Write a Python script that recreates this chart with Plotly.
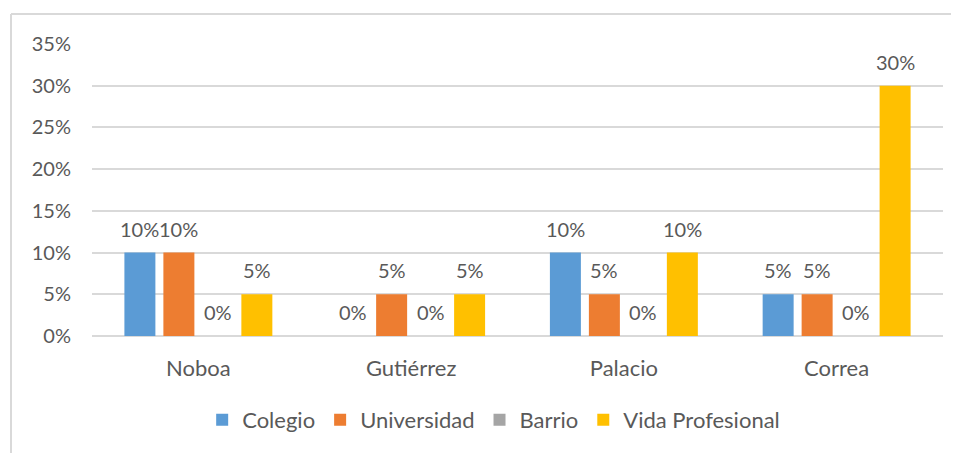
import plotly.graph_objects as go

categories = ["Noboa", "Gutiérrez", "Palacio", "Correa"]
series_names = ["Colegio", "Universidad", "Barrio", "Vida Profesional"]
colegio = [0.10, 0.0, 0.10, 0.05]
universidad = [0.10, 0.05, 0.05, 0.05]
barrio = [0.0, 0.0, 0.0, 0.0]
vida_profesional = [0.05, 0.05, 0.10, 0.30]
y_ticks = [0, 0.05, 0.10, 0.15, 0.20, 0.25, 0.30, 0.35]

colors = ["#5B9BD5", "#ED7D31", "#A5A5A5", "#FFC000"]
values = [colegio, universidad, barrio, vida_profesional]

W, H = 959, 453
ml, mt = 84, 36
pw, ph = 851, 292
mr = W - ml - pw
mb = H - mt - ph
bargap = 0.267
bargroupgap = 0.205
FONT = "Lato"
FS = 20
FS_TXT = 22
TXT = "#595959"

fig = go.Figure()
for name, vals, col in zip(series_names, values, colors):
    fig.add_trace(go.Bar(name=name, x=categories, y=vals, marker_color=col,
                         marker_line_width=0, hoverinfo="skip"))

# data labels above bars
cat_w = pw / len(categories)
slot = cat_w * (1 - bargap) / len(series_names)
for i, vals in enumerate(values):
    off = (i - (len(series_names) - 1) / 2) * slot
    for c, v in zip(categories, vals):
        fig.add_annotation(x=c, y=v, text=f"{v*100:.0f}%", showarrow=False,
                           xshift=off, yshift=24, yanchor="middle",
                           font=dict(family=FONT, size=FS, color=TXT))

# chart frame (top and left edges; the rest lies outside the view)
fx0 = (3 - ml) / pw
fx1 = (W - ml) / pw
fy0 = -(H - mt - ph) / ph
fy1 = 1 + (mt - 6) / ph
frame = dict(color="#D9D9D9", width=2)
fig.add_shape(type="line", xref="paper", yref="paper", x0=fx0, x1=fx1, y0=fy1, y1=fy1, line=frame)
fig.add_shape(type="line", xref="paper", yref="paper", x0=fx0, x1=fx0, y0=fy0, y1=fy1, line=frame)

fig.update_layout(
    width=W, height=H,
    margin=dict(l=ml, r=mr, t=mt, b=mb),
    paper_bgcolor="white", plot_bgcolor="white",
    barmode="group", bargap=bargap, bargroupgap=bargroupgap,
    font=dict(family=FONT, size=FS, color=TXT),
    showlegend=True,
    legend=dict(orientation="h", x=0.472, xanchor="center",
                y=-(412 - (mt + ph)) / ph, yanchor="middle",
                font=dict(family=FONT, size=FS_TXT, color=TXT),
                itemwidth=30, traceorder="normal"),
    xaxis=dict(showgrid=False, showline=False, ticks="outside", ticklen=13,
               tickcolor="rgba(0,0,0,0)", tickfont=dict(family=FONT, size=FS_TXT, color=TXT)),
    yaxis=dict(range=[0, 0.35], tickvals=y_ticks, tickformat=".0%",
               showgrid=True, gridcolor="#D9D9D9", gridwidth=1.5,
               zeroline=True, zerolinecolor="#D9D9D9", zerolinewidth=1.5,
               showline=False, ticks="outside", ticklen=16, tickcolor="rgba(0,0,0,0)",
               tickfont=dict(family=FONT, size=FS, color=TXT)),
)

fig.write_html("out.html")
